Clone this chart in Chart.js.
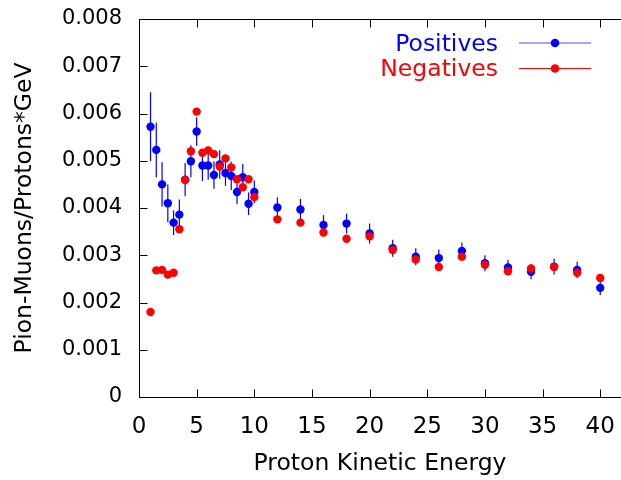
<!DOCTYPE html>
<html><head><meta charset="utf-8">
<script src="https://cdn.jsdelivr.net/npm/chart.js@4.4.1/dist/chart.umd.min.js"></script>
<style>html,body{margin:0;padding:0;background:#fff;overflow:hidden}#wrap{width:621px;height:480px;position:relative}</style>
</head><body><div id="wrap"><canvas id="c" width="621" height="480"></canvas></div>
<script>
const energies = [1,1.5,2,2.5,3,3.5,4,4.5,5,5.5,6,6.5,7,7.5,8,8.5,9,9.5,10,12,14,16,18,20,22,24,26,28,30,32,34,36,38,40];
const positives = [0.00572,0.00523,0.00450,0.00410,0.00369,0.00386,0.00460,0.00499,0.00562,0.00490,0.00490,0.00470,0.00492,0.00474,0.00468,0.00434,0.00465,0.00409,0.00434,
  0.00401,0.00397,0.00364,0.00367,0.00346,0.00315,0.00297,0.00294,0.00309,0.00283,0.00274,0.00265,0.00276,0.00269,0.00231];
const positivesErr = [0.00073,0.00058,0.00047,0.00040,0.00026,0.00032,0.00035,0.00034,0.00030,0.00033,0.00030,0.00029,0.00030,0.00027,0.00030,0.00026,0.00028,0.00024,0.00024,
  0.00022,0.00022,0.00021,0.00021,0.00021,0.00018,0.00018,0.00018,0.00018,0.00017,0.00016,0.00016,0.00017,0.00017,0.00015];
const negatives = [0.00180,0.00268,0.00269,0.00259,0.00263,0.00355,0.00459,0.00520,0.00604,0.00517,0.00522,0.00514,0.00488,0.00505,0.00486,0.00461,0.00444,0.00461,0.00423,
  0.00376,0.00369,0.00348,0.00335,0.00340,0.00311,0.00291,0.00275,0.00297,0.00280,0.00266,0.00272,0.00275,0.00263,0.00252];
const seriesNames = ['Positives','Negatives'];
const seriesColors = ['#0000ff','#ff0000'];
const xTicks = [0,5,10,15,20,25,30,35,40];
const yTicks = [0,0.001,0.002,0.003,0.004,0.005,0.006,0.007,0.008];
const yTickLabels = ['0','0.001','0.002','0.003','0.004','0.005','0.006','0.007','0.008'];
const xTitle = 'Proton Kinetic Energy';
const yTitle = 'Pion-Muons/Protons*GeV';

const FONT = "'DejaVu Sans', sans-serif";

const framePlugin = {
  id: 'frame',
  beforeDatasetsDraw(chart) {
    const {ctx, scales: {x, y}} = chart;
    ctx.save();
    ctx.strokeStyle = seriesColors[0];
    ctx.lineWidth = 1.2;
    energies.forEach((e, i) => {
      const px = x.getPixelForValue(e);
      ctx.beginPath();
      ctx.moveTo(px, y.getPixelForValue(positives[i] - positivesErr[i]));
      ctx.lineTo(px, y.getPixelForValue(positives[i] + positivesErr[i]));
      ctx.stroke();
    });
    ctx.restore();
  },
  afterDraw(chart) {
    const {ctx, chartArea: a, scales: {x, y}} = chart;
    ctx.save();
    ctx.strokeStyle = '#000';
    ctx.lineWidth = 1;
    const L = Math.round(a.left) + 0.5, T = Math.round(a.top) + 0.5, B = Math.round(a.bottom) + 0.5, R = a.right + 2;
    ctx.beginPath();
    ctx.moveTo(R, T); ctx.lineTo(L, T); ctx.lineTo(L, B); ctx.lineTo(R, B);
    ctx.stroke();
    const tl = 8;
    ctx.beginPath();
    xTicks.forEach(v => {
      const px = Math.round(x.getPixelForValue(v)) + 0.5;
      ctx.moveTo(px, B); ctx.lineTo(px, B - tl);
      ctx.moveTo(px, T); ctx.lineTo(px, T + tl);
    });
    yTicks.forEach(v => {
      const py = Math.round(y.getPixelForValue(v)) + 0.5;
      ctx.moveTo(L, py); ctx.lineTo(L + tl, py);
    });
    ctx.stroke();
    // legend
    ctx.font = "23.5px " + FONT;
    ctx.textAlign = 'right';
    ctx.textBaseline = 'alphabetic';
    const rows = [{tb: 50.7, ly: 43}, {tb: 76, ly: 68.5}];
    chart.data.datasets.slice().sort((p, q) => p.legendIndex - q.legendIndex).forEach((ds, i) => {
      const r = rows[i];
      ctx.fillStyle = ds.backgroundColor;
      ctx.fillText(ds.label, 498, r.tb);
      ctx.strokeStyle = ds.backgroundColor;
      ctx.globalAlpha = i === 0 ? 0.7 : 1;
      ctx.lineWidth = 1.2;
      ctx.beginPath(); ctx.moveTo(519, r.ly); ctx.lineTo(591, r.ly); ctx.stroke();
      ctx.globalAlpha = 1;
      ctx.beginPath(); ctx.arc(555, r.ly, 4.3, 0, Math.PI * 2); ctx.fill();
    });
    ctx.restore();
  }
};

new Chart(document.getElementById('c'), {
  type: 'scatter',
  data: {
    datasets: [
      {label: seriesNames[0], legendIndex: 0, order: 2, data: energies.map((e, i) => ({x: e, y: positives[i]})),
       backgroundColor: seriesColors[0], borderColor: seriesColors[0], pointRadius: 4.2, borderWidth: 0, showLine: false},
      {label: seriesNames[1], legendIndex: 1, order: 1, data: energies.map((e, i) => ({x: e, y: negatives[i]})),
       backgroundColor: seriesColors[1], borderColor: seriesColors[1], pointRadius: 4.2, borderWidth: 0, showLine: false}
    ]
  },
  options: {
    responsive: false,
    devicePixelRatio: 1,
    animation: false,
    events: [],
    layout: {autoPadding: false, padding: {top: 19, left: 0, right: 0, bottom: 0}},
    plugins: {legend: {display: false}, tooltip: {enabled: false}},
    scales: {
      x: {
        type: 'linear', min: 0, max: 41.8,
        afterBuildTicks: s => { s.ticks = xTicks.map(v => ({value: v})); },
        afterFit: s => { s.height = 83; s.paddingRight = 0; s.paddingLeft = 0; },
        grid: {display: false, drawTicks: false},
        border: {display: false},
        ticks: {autoSkip: false, maxRotation: 0, minRotation: 0, padding: 16, color: '#000',
          font: {family: FONT, size: 23}, callback: (v) => String(v)},
        title: {display: true, text: xTitle, color: '#000', font: {family: FONT, size: 23.5}, padding: {top: 0, bottom: 2}}
      },
      y: {
        type: 'linear', min: 0, max: 0.008,
        afterBuildTicks: s => { s.ticks = yTicks.map(v => ({value: v})); },
        afterFit: s => { s.width = 139; s.paddingTop = 0; s.paddingBottom = 0; },
        grid: {display: false, drawTicks: false},
        border: {display: false},
        ticks: {autoSkip: false, padding: 17, color: '#000', font: {family: FONT, size: 21},
          callback: (v, i) => yTickLabels[i]},
        title: {display: true, text: yTitle, color: '#000', font: {family: FONT, size: 23.5}, padding: {top: 11, bottom: 0}}
      }
    }
  },
  plugins: [framePlugin]
});
</script>
</body></html>
